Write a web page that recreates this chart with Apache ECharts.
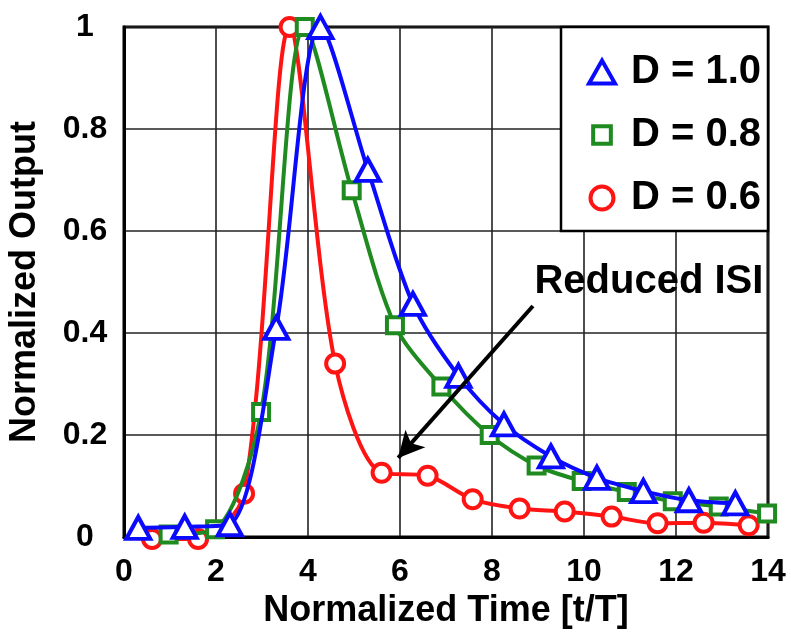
<!DOCTYPE html>
<html>
<head>
<meta charset="utf-8">
<script src="https://cdn.jsdelivr.net/npm/echarts@6/dist/echarts.min.js"></script>
<style>
  html, body { margin: 0; padding: 0; background: #fff; }
  #chart { width: 791px; height: 635px; }
</style>
</head>
<body>
<div id="chart"></div>
<script>
// ---- data ----
const seriesNames = ['D = 1.0', 'D = 0.8', 'D = 0.6'];

const xD10 = [0.31, 1.32, 2.30, 3.31, 4.27, 5.30, 6.28, 7.27, 8.26, 9.28, 10.28, 11.29, 12.28, 13.29];
const yD10 = [0.018, 0.02, 0.025, 0.41, 1.0, 0.72, 0.457, 0.316, 0.221, 0.158, 0.116, 0.09, 0.072, 0.066];

const xD08 = [0.97, 1.98, 2.98, 3.93, 4.95, 5.89, 6.90, 7.95, 8.97, 9.95, 10.93, 11.93, 12.93, 13.98];
const yD08 = [0.005, 0.015, 0.245, 1.0, 0.68, 0.415, 0.295, 0.20, 0.14, 0.11, 0.088, 0.07, 0.06, 0.046];

const xD06 = [0.61, 1.61, 2.61, 3.60, 4.59, 5.60, 6.60, 7.58, 8.60, 9.58, 10.60, 11.60, 12.60, 13.58];
const yD06 = [-0.004, -0.004, 0.085, 1.0, 0.34, 0.126, 0.12, 0.074, 0.056, 0.05, 0.04, 0.027, 0.028, 0.023];

const xTicks = [0, 2, 4, 6, 8, 10, 12, 14];
const yTicks = [0, 0.2, 0.4, 0.6, 0.8, 1];

const annotationText = 'Reduced ISI';
const annotationPos = [11.41, 0.5];
const arrowFrom = [8.89, 0.453];
const arrowTo = [5.96, 0.155];

// ---- chart ----
const FONT = "'Liberation Sans', Arial, sans-serif";
const BLUE = '#0a0aff', GREEN = '#1f8a1f', RED = '#ff1414';

function pairs(xs, ys) { return xs.map((x, i) => [x, ys[i]]); }

const chart = echarts.init(document.getElementById('chart'), null, { renderer: 'canvas' });

function lineSeries(name, xs, ys, color, symbol, size) {
  return {
    name: name,
    type: 'line',
    data: pairs(xs, ys),
    smooth: 0.3,
    symbol: symbol,
    symbolSize: size,
    showAllSymbol: true,
    clip: false,
    lineStyle: { color: color, width: 4 },
    itemStyle: { color: '#fff', borderColor: color, borderWidth: 4 },
    emphasis: { disabled: true },
    animation: false
  };
}

const sRed = lineSeries(seriesNames[2], xD06, yD06, RED, 'circle', 18);
sRed.z = 2;
const sGreen = lineSeries(seriesNames[1], xD08, yD08, GREEN, 'rect', 16);
sGreen.z = 3;
const sBlue = lineSeries(seriesNames[0], xD10, yD10, BLUE, 'triangle', [24, 22]);
sBlue.z = 4;
sBlue.markLine = {
  silent: true,
  animation: false,
  symbol: ['none', 'arrow'],
  symbolSize: [20, 26],
  label: { show: false },
  lineStyle: { color: '#000', width: 4, type: 'solid' },
  emphasis: { disabled: true },
  data: [[{ coord: arrowFrom }, { coord: arrowTo }]]
};
sBlue.markPoint = {
  silent: true,
  animation: false,
  symbol: 'circle',
  symbolSize: 0,
  label: {
    show: true, position: 'inside', formatter: annotationText,
    color: '#000', fontFamily: FONT, fontWeight: 'bold', fontSize: 40
  },
  data: [{ coord: annotationPos }]
};

const option = {
  animation: false,
  backgroundColor: '#fff',
  grid: {
    left: 124, right: 23, top: 27, bottom: 98,
    containLabel: false,
    outerBoundsMode: 'none',
    show: true, borderColor: '#000', borderWidth: 3, backgroundColor: 'transparent'
  },
  xAxis: {
    type: 'value',
    min: xTicks[0], max: xTicks[xTicks.length - 1], interval: 2,
    name: 'Normalized Time [t/T]',
    nameLocation: 'middle',
    nameGap: 54,
    nameTextStyle: { fontFamily: FONT, fontWeight: 'bold', fontSize: 36, color: '#000' },
    axisLine: { show: true, lineStyle: { color: '#000', width: 3 } },
    axisTick: { show: false },
    axisLabel: { margin: 19, fontFamily: FONT, fontWeight: 'bold', fontSize: 32, color: '#000' },
    splitLine: { show: true, lineStyle: { color: '#222', width: 1.6 } }
  },
  yAxis: {
    type: 'value',
    min: yTicks[0], max: yTicks[yTicks.length - 1], interval: 0.2,
    name: 'Normalized Output',
    nameLocation: 'middle',
    nameGap: 81,
    nameTextStyle: { fontFamily: FONT, fontWeight: 'bold', fontSize: 36, color: '#000' },
    axisLine: { show: true, lineStyle: { color: '#000', width: 3 } },
    axisTick: { show: false },
    axisLabel: { margin: 39, align: 'center', fontFamily: FONT, fontWeight: 'bold', fontSize: 32, color: '#000' },
    splitLine: { show: true, lineStyle: { color: '#222', width: 1.6 } }
  },
  graphic: [{
    type: 'rect', z: 5, silent: true,
    shape: { x: 561, y: 27, width: 207, height: 204 },
    style: { fill: '#fff', stroke: '#000', lineWidth: 2.5 }
  }],
  legend: {
    z: 10,
    orient: 'vertical',
    left: 582, top: 47,
    itemWidth: 26, itemHeight: 23,
    itemGap: 23,
    selectedMode: false,
    textStyle: { fontFamily: FONT, fontWeight: 'bold', fontSize: 40, lineHeight: 40, color: '#000', padding: [0, 0, 0, 11] },
    data: [
      { name: seriesNames[0], icon: 'triangle', itemStyle: { color: '#fff', borderColor: BLUE, borderWidth: 4 } },
      { name: seriesNames[1], icon: 'path://M0,0M3,3h20v20h-20zM26,26', itemStyle: { color: '#fff', borderColor: GREEN, borderWidth: 4 } },
      { name: seriesNames[2], icon: 'circle', itemStyle: { color: '#fff', borderColor: RED, borderWidth: 4 } }
    ]
  },
  series: [sRed, sGreen, sBlue]
};

chart.setOption(option);
</script>
</body>
</html>
